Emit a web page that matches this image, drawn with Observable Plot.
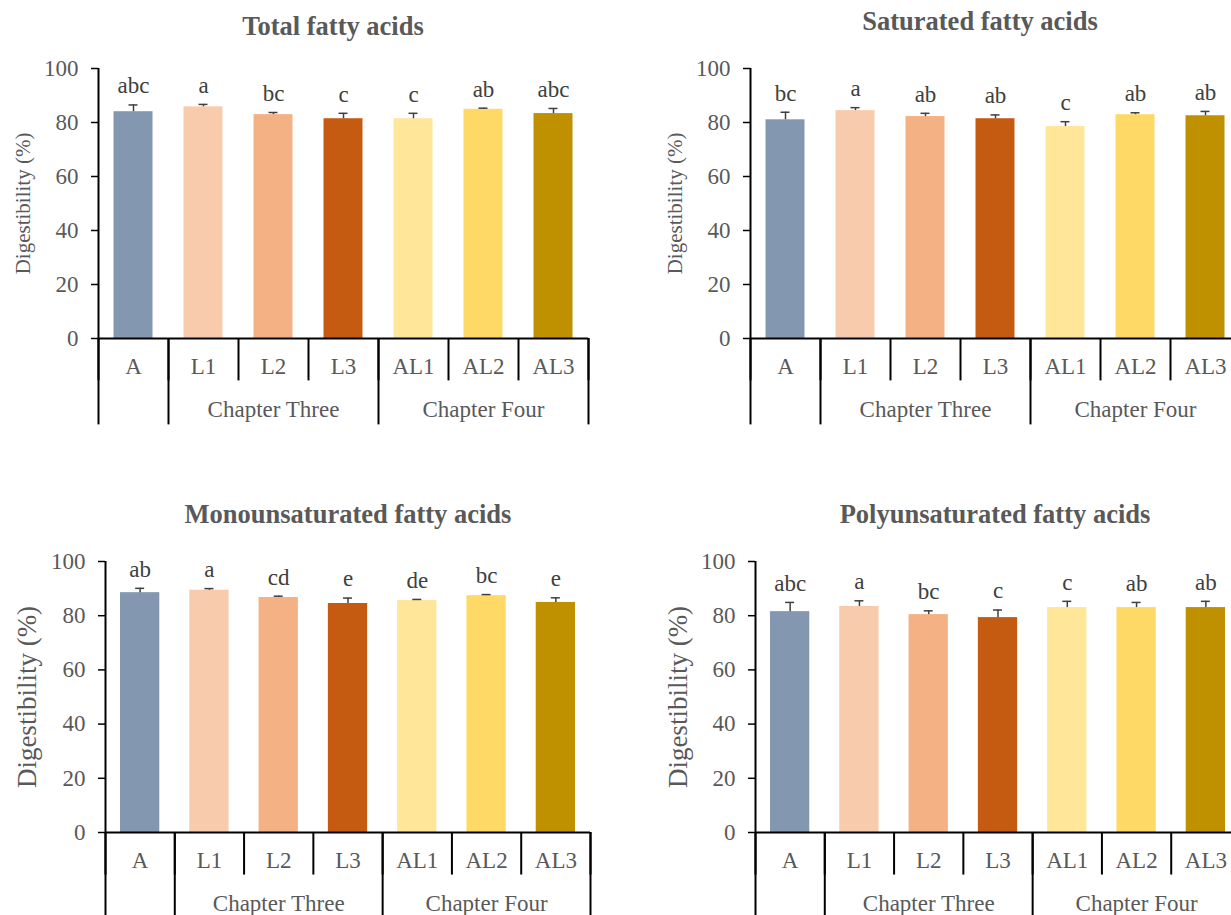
<!DOCTYPE html>
<html><head><meta charset="utf-8">
<script src="https://cdn.jsdelivr.net/npm/d3@7"></script>
<script src="https://cdn.jsdelivr.net/npm/@observablehq/plot@0.6"></script>
<style>
html,body{margin:0;padding:0;background:#fff;overflow:hidden;}
#wrap{position:relative;width:1231px;height:915px;overflow:hidden;font-family:"Liberation Serif","Times New Roman",serif;}
.panel{position:absolute;}
.panel svg{overflow:visible !important;max-width:none !important;}
.title{position:absolute;font-weight:bold;font-size:26.5px;color:#595959;white-space:nowrap;transform:translate(-50%,-50%);line-height:1;}
</style></head><body><div id="wrap"></div>
<script>
const categories = ["A", "L1", "L2", "L3", "AL1", "AL2", "AL3"];
const groupLabels = ["", "Chapter Three", "Chapter Four"];
const groupStarts = [0, 1, 4];
const groupEnds = [1, 4, 7];
const colors = ["#8497B0", "#F8CBAD", "#F4B183", "#C55A11", "#FFE699", "#FFD966", "#BF9000"];
const yTicks = [0, 20, 40, 60, 80, 100];
const yTitle = "Digestibility (%)";

const titles = ["Total fatty acids", "Saturated fatty acids", "Monounsaturated fatty acids", "Polyunsaturated fatty acids"];

const totalMean = [84.0, 85.8, 82.9, 81.4, 81.4, 84.9, 83.3];
const totalErr = [2.5, 0.9, 0.8, 2.0, 2.0, 0.4, 1.9];
const totalLetters = ["abc", "a", "bc", "c", "c", "ab", "abc"];

const satMean = [81.0, 84.4, 82.2, 81.4, 78.5, 82.9, 82.5];
const satErr = [2.8, 1.1, 1.2, 1.4, 1.8, 0.7, 1.6];
const satLetters = ["bc", "a", "ab", "ab", "c", "ab", "ab"];

const monoMean = [88.5, 89.4, 86.7, 84.5, 85.6, 87.4, 84.9];
const monoErr = [1.6, 0.6, 0.5, 2.0, 0.4, 0.4, 1.7];
const monoLetters = ["ab", "a", "cd", "e", "de", "bc", "e"];

const polyMean = [81.5, 83.4, 80.4, 79.3, 83.0, 83.0, 83.0];
const polyErr = [3.4, 2.1, 1.4, 2.8, 2.3, 1.9, 2.3];
const polyLetters = ["abc", "a", "bc", "c", "c", "ab", "ab"];

const FONT = "Liberation Serif, Times New Roman, serif";
const wrap = document.getElementById("wrap");

function panel(cfg) {
  const {mean, err, letters, title, left, top, height, marginTop, marginBottom, marginLeft, innerWidth,
         yTitleSize, yTitleDx, titleX, titleY, inset} = cfg;
  const rows = categories.map((c, i) => ({c, i, v: mean[i], e: err[i], t: mean[i] + err[i], letter: letters[i], color: colors[i]}));
  const groups = groupLabels.map((label, k) => ({label, s: groupStarts[k], e: groupEnds[k]}));
  const edges = d3.range(categories.length + 1);
  const groupEdges = [0, ...groupEnds];
  const capHalf = 4.5 / (innerWidth / 7);
  const marginRight = 14;
  const width = marginLeft + innerWidth + marginRight;
  const plot = Plot.plot({
    width, height, marginTop, marginBottom, marginLeft, marginRight,
    x: {domain: [0, categories.length], axis: null},
    y: {domain: [0, 100], axis: null},
    style: {fontFamily: FONT, background: "white", overflow: "visible", maxWidth: "none"},
    marks: [
      Plot.rectY(rows, {x1: d => d.i, x2: d => d.i + 1, y: "v", fill: "color", insetLeft: inset, insetRight: inset}),
      Plot.ruleX(rows, {x: d => d.i + 0.5, y1: "v", y2: "t", stroke: "#404040", strokeWidth: 1.5}),
      Plot.ruleY(rows, {y: "t", x1: d => d.i + 0.5 - capHalf, x2: d => d.i + 0.5 + capHalf, stroke: "#404040", strokeWidth: 1.5}),
      Plot.text(rows, {x: d => d.i + 0.5, y: "t", text: "letter", dy: -19, fontSize: 23, fill: "#404040"}),
      Plot.axisY(yTicks, {tickSize: 7, tickPadding: 13, fontSize: 23, stroke: "black", fill: "#595959", strokeWidth: 1.5, label: null}),
      Plot.ruleX([0], {y1: 0, y2: 100, stroke: "black", strokeWidth: 2}),
      Plot.ruleY([0], {x1: 0, x2: categories.length, stroke: "black", strokeWidth: 2}),
      Plot.ruleX(edges, {x: d => d, y1: 0, y2: -15.7, stroke: "black", strokeWidth: 2}),
      Plot.ruleX(groupEdges, {x: d => d, y1: 0, y2: -32, stroke: "black", strokeWidth: 2}),
      Plot.text(rows, {x: d => d.i + 0.5, y: -10.3, text: "c", fontSize: 23, fill: "#595959"}),
      Plot.text(groups, {x: d => (d.s + d.e) / 2, y: -26.2, text: "label", fontSize: 23, fill: "#595959"}),
      Plot.text([yTitle], {x: 0, y: 50, text: d => d, rotate: -90, dx: yTitleDx, fontSize: yTitleSize, fill: "#595959"})
    ]
  });
  const div = document.createElement("div");
  div.className = "panel";
  div.style.left = left + "px";
  div.style.top = top + "px";
  div.style.width = width + "px";
  div.style.height = height + "px";
  div.appendChild(plot);
  wrap.appendChild(div);
  const t = document.createElement("div");
  t.className = "title";
  t.textContent = title;
  t.style.left = titleX + "px";
  t.style.top = titleY + "px";
  wrap.appendChild(t);
}

const topCfg = {top: 40, height: 390, marginTop: 28, marginBottom: 92, marginLeft: 98, innerWidth: 490, yTitleSize: 21, inset: 15.5};
const botCfg = {top: 530, height: 385, marginTop: 31, marginBottom: 83, marginLeft: 105, innerWidth: 485, yTitleSize: 27, inset: 15};

panel({...topCfg, mean: totalMean, err: totalErr, letters: totalLetters, title: titles[0], left: 0, yTitleDx: -75, titleX: 333, titleY: 26});
panel({...topCfg, mean: satMean, err: satErr, letters: satLetters, title: titles[1], left: 652, yTitleDx: -75, titleX: 980, titleY: 21});
panel({...botCfg, mean: monoMean, err: monoErr, letters: monoLetters, title: titles[2], left: 0, yTitleDx: -78, titleX: 348, titleY: 514});
panel({...botCfg, mean: polyMean, err: polyErr, letters: polyLetters, title: titles[3], left: 650, yTitleDx: -77, titleX: 995, titleY: 514});
</script>
</body></html>
